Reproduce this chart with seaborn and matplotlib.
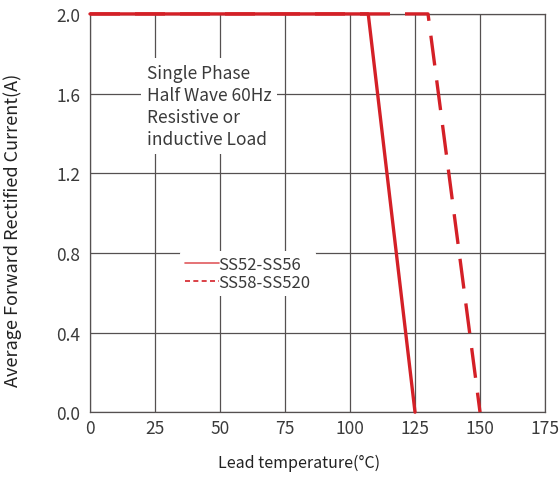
import numpy as np
import pandas as pd
import matplotlib
matplotlib.use("Agg")
import matplotlib.pyplot as plt
from matplotlib.lines import Line2D
import seaborn as sns

# Derating curve data
temp_ss52 = [0, 107, 125]
current_ss52 = [2.0, 2.0, 0.0]
temp_ss58 = [0, 130, 150]
current_ss58 = [2.0, 2.0, 0.0]
series_names = ["SS52-SS56", "SS58-SS520"]
x_ticks = [0, 25, 50, 75, 100, 125, 150, 175]
y_ticks = [0.0, 0.4, 0.8, 1.2, 1.6, 2.0]

sns.set_theme(style="white")
plt.rcParams['font.family'] = ['Noto Sans CJK SC', 'DejaVu Sans']
plt.rcParams['font.weight'] = 'light'

RED = "#d42027"
TXT = "#3a3a3a"
GRID = "#555050"

df1 = pd.DataFrame({"temp": temp_ss52, "current": current_ss52})
df2 = pd.DataFrame({"temp": temp_ss58, "current": current_ss58})

fig = plt.figure(figsize=(5.59, 4.81), dpi=100)
ax = fig.add_axes([0.161, 0.141, 0.814, 0.828])

sns.lineplot(data=df1, x="temp", y="current", ax=ax, color=RED, lw=2.4,
             zorder=5, clip_on=False)
sns.lineplot(data=df2, x="temp", y="current", ax=ax, color=RED, lw=2.4,
             zorder=5, clip_on=False, dashes=False)
ax.lines[1].set_dashes([9, 4.5])

ax.set_xlim(0, 175)
ax.set_ylim(0, 2.0)
ax.set_xticks(x_ticks)
ax.set_yticks(y_ticks)
ax.set_yticklabels([f"{v:.1f}" for v in y_ticks])
ax.grid(True, color=GRID, lw=0.9)
ax.set_axisbelow(True)
for s in ax.spines.values():
    s.set_color(GRID)
    s.set_linewidth(0.9)
ax.tick_params(axis="both", length=0, labelsize=12.5, colors=TXT, pad=7)
ax.tick_params(axis="x", pad=5)

ax.set_xlabel("Lead temperature(°C)", fontsize=11.5, color="#222222")
ax.xaxis.set_label_coords(0.46, -0.105)
ax.set_ylabel("Average Forward Rectified Current(A)", fontsize=13,
              color="#222222")
ax.yaxis.set_label_coords(-0.15, 0.46)

ax.text(0.125, 0.875,
        "Single Phase\nHalf Wave 60Hz\nResistive or\ninductive Load",
        transform=ax.transAxes, fontsize=12.5, color=TXT, va="top", ha="left",
        linespacing=1.3, zorder=4,
        bbox=dict(facecolor="white", edgecolor="none", pad=4))

handles = [Line2D([], [], color="#e05a5e", lw=1.2),
           Line2D([], [], color=RED, lw=1.2, dashes=[3, 2])]
leg = ax.legend(handles, series_names, loc="lower left",
                bbox_to_anchor=(0.18, 0.27), frameon=True, fontsize=12,
                handlelength=2.0, handletextpad=0.0, labelspacing=0.1,
                borderpad=0.3, labelcolor=TXT)
leg.get_frame().set_edgecolor("none")
leg.get_frame().set_facecolor("white")
leg.get_frame().set_alpha(1)
leg.set_zorder(4)

fig.savefig("out.png", dpi=100)
